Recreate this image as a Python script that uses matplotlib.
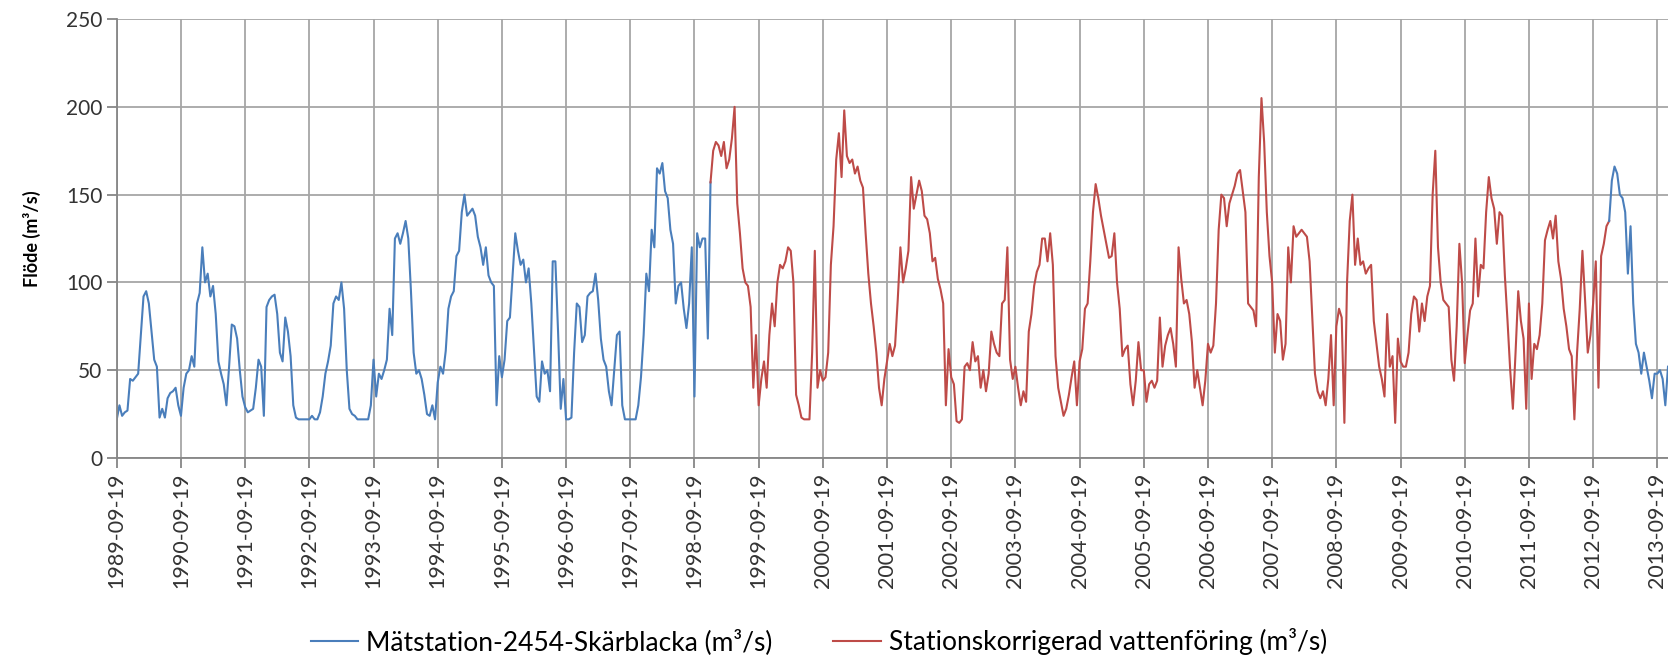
import matplotlib
matplotlib.use("Agg")
import matplotlib.pyplot as plt
import matplotlib.dates as mdates
import numpy as np
import pandas as pd

# Flow readings, 24 samples per hydrological year starting 1989-09-19
blue_early = [
    22, 30, 24, 26, 27, 45, 44, 46, 48, 70, 92, 95, 88, 72, 56, 52, 23, 28, 23, 34, 37, 38, 40, 30,          # 1989-90
    24, 40, 48, 50, 58, 52, 88, 94, 120, 100, 105, 92, 98, 82, 55, 48, 42, 30, 52, 76, 75, 68, 50, 35,      # 1990-91
    29, 26, 27, 28, 40, 56, 52, 24, 86, 90, 92, 93, 82, 60, 55, 80, 72, 58, 30, 23, 22, 22, 22, 22,         # 1991-92
    22, 24, 22, 22, 26, 35, 48, 55, 64, 88, 92, 90, 100, 85, 50, 28, 25, 24, 22, 22, 22, 22, 22, 30,        # 1992-93
    56, 35, 48, 45, 50, 56, 85, 70, 125, 128, 122, 128, 135, 125, 95, 60, 48, 50, 45, 36, 25, 24, 30, 22,   # 1993-94
    43, 52, 48, 61, 85, 92, 95, 115, 118, 140, 150, 138, 140, 142, 138, 126, 120, 110, 120, 104, 100, 98, 30, 58,  # 1994-95
    46, 56, 78, 80, 104, 128, 118, 110, 113, 100, 108, 88, 62, 35, 32, 55, 48, 50, 38, 112, 112, 72, 28, 45,  # 1995-96
    22, 22, 23, 60, 88, 86, 66, 70, 92, 94, 95, 105, 90, 68, 56, 52, 38, 30, 50, 70, 72, 30, 22, 22,        # 1996-97
    22, 22, 22, 30, 46, 70, 105, 95, 130, 120, 165, 162, 168, 152, 148, 130, 122, 88, 98, 100, 85, 74, 88, 120,  # 1997-98
    35, 128, 120, 125, 125, 68, 157,                                                                        # 1998 (autumn)
]

red = [
    157, 175, 180, 178, 172, 180, 165, 170, 182, 200, 145, 128, 108, 100, 98, 86, 40, 70,                  # 1998-99
    30, 45, 55, 40, 70, 88, 75, 100, 110, 108, 112, 120, 118, 100, 36, 30, 23, 22, 22, 22, 60, 118, 40, 50,   # 1999-00
    44, 46, 60, 110, 132, 170, 185, 160, 198, 172, 168, 170, 162, 166, 158, 154, 128, 105, 88, 75, 60, 40, 30, 45,  # 2000-01
    55, 65, 58, 64, 90, 120, 100, 108, 118, 160, 142, 150, 158, 152, 138, 136, 128, 112, 114, 102, 96, 88, 30, 62,  # 2001-02
    46, 42, 21, 20, 22, 52, 54, 50, 66, 55, 58, 40, 50, 38, 48, 72, 65, 60, 58, 88, 90, 120, 56, 45,        # 2002-03
    52, 40, 30, 38, 32, 72, 82, 98, 106, 110, 125, 125, 112, 128, 110, 58, 40, 32, 24, 28, 36, 46, 55, 30,  # 2003-04
    55, 62, 85, 88, 112, 140, 156, 148, 138, 130, 122, 114, 115, 128, 100, 85, 58, 62, 64, 42, 30, 44, 66, 50,  # 2004-05
    50, 32, 42, 44, 40, 44, 80, 52, 64, 70, 74, 65, 52, 120, 102, 88, 90, 82, 66, 40, 50, 40, 30, 44,       # 2005-06
    65, 60, 64, 88, 130, 150, 148, 132, 145, 150, 155, 162, 164, 152, 140, 88, 86, 84, 75, 160, 205, 180, 140, 115,  # 2006-07
    100, 60, 82, 78, 56, 65, 120, 100, 132, 126, 128, 130, 128, 126, 112, 80, 48, 38, 34, 38, 30, 45, 70, 30,  # 2007-08
    75, 85, 80, 20, 100, 135, 150, 110, 125, 110, 112, 105, 108, 110, 78, 65, 52, 45, 35, 82, 52, 58, 20, 68,  # 2008-09
    55, 52, 52, 60, 82, 92, 90, 72, 88, 78, 92, 98, 150, 175, 120, 100, 90, 88, 86, 56, 44, 75, 122, 100,    # 2009-10
    54, 70, 84, 88, 125, 92, 110, 108, 140, 160, 148, 142, 122, 140, 138, 104, 78, 50, 28, 60, 95, 78, 68, 28,  # 2010-11
    88, 45, 65, 62, 70, 88, 124, 130, 135, 125, 138, 112, 102, 85, 75, 62, 58, 22, 60, 85, 118, 90, 60, 70,  # 2011-12
    88, 112, 40, 115, 122, 132, 135,                                                                        # 2012 (autumn)
]

blue_late = [
    135, 158, 166, 162, 150, 148, 140, 105, 132, 88, 65, 60, 48, 60, 52, 44, 34, 48,                        # 2012-13
    48, 50, 45, 30, 52,                                                                                     # 2013 (autumn)
]

blue_label = 'Mätstation-2454-Skärblacka (m³/s)'
red_label = 'Stationskorrigerad vattenföring (m³/s)'

# Time axis
n_total = len(blue_early) + len(red) + len(blue_late) - 2
dates = pd.date_range('1989-09-19', periods=n_total, freq=pd.Timedelta(hours=365.25))
red_start = len(blue_early) - 1
late_start = red_start + len(red) - 1

plt.rcParams['font.family'] = ['Lato', 'DejaVu Sans']

fig = plt.figure(figsize=(16.68, 6.58), dpi=100)
ax = fig.add_axes([0.07, 0.304, 0.93, 0.667])

blue_c = '#4a7ebb'
red_c = '#be4b48'
ax.plot(dates[:len(blue_early)], blue_early, color=blue_c, lw=1.5, label=blue_label)
ax.plot(dates[red_start:red_start + len(red)], red, color=red_c, lw=1.5, label=red_label)
ax.plot(dates[late_start:late_start + len(blue_late)], blue_late, color=blue_c, lw=1.5)

# Axes
ax.set_xlim(dates[0], dates[-1])
ax.set_ylim(0, 250)
ax.set_yticks(np.arange(0, 251, 50))
ax.xaxis.set_major_locator(mdates.YearLocator(base=1, month=9, day=19))
ax.xaxis.set_major_formatter(mdates.DateFormatter('%Y-%m-%d'))
ax.grid(True, color='#a6a6a6', lw=1.3)
ax.set_axisbelow(True)
for s in ['top', 'right']:
    ax.spines[s].set_visible(False)
for s in ['left', 'bottom']:
    ax.spines[s].set_color('#868686')
    ax.spines[s].set_linewidth(1.3)
ax.tick_params(axis='x', rotation=90, labelsize=15.5, length=7, width=1.3,
               color='#868686', labelcolor='#333333')
ax.tick_params(axis='y', labelsize=15, length=7, width=1.3,
               color='#868686', labelcolor='#333333')

ax.set_ylabel('Flöde (m³/s)', fontsize=13, fontweight='bold')
ax.yaxis.set_label_coords(-0.049, 0.5)

fig.legend(loc='center', bbox_to_anchor=(0.491, 0.025), ncol=2, frameon=False,
           fontsize=19, handlelength=1.8, handletextpad=0.3, columnspacing=2.3)

fig.savefig('out.png', dpi=100)
